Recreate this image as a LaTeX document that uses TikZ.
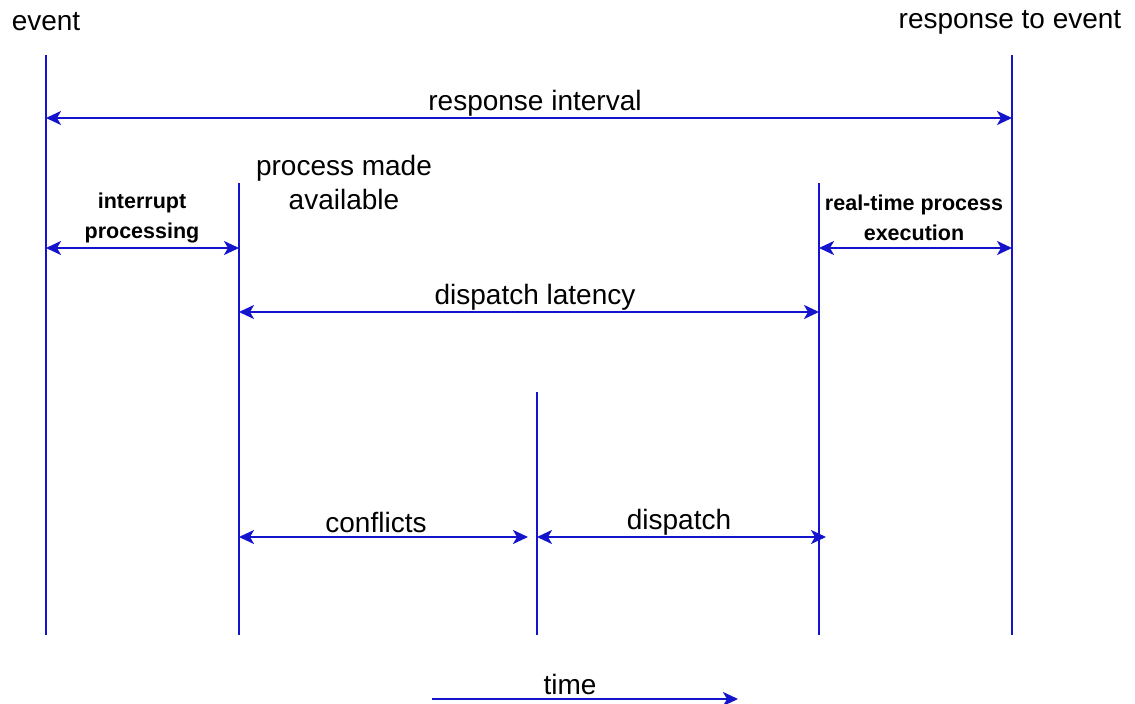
\documentclass[tikz,border=0pt]{standalone}
\usepackage{fontspec}
\setmainfont{Liberation Sans}
\usetikzlibrary{arrows.meta}
\definecolor{lineblue}{RGB}{20,20,205}
\definecolor{shadowgray}{RGB}{185,185,185}
\tikzset{
  vline/.style={draw=lineblue, line width=2.2pt},
  shadowline/.style={draw=shadowgray, line width=2.2pt},
  dimarrow/.style={draw=lineblue, line width=2.2pt, {Stealth[length=15pt,width=14pt,inset=4pt]}-{Stealth[length=15pt,width=14pt,inset=4pt]}},
  onearrow/.style={draw=lineblue, line width=2.2pt, -{Stealth[length=15pt,width=14pt,inset=4pt]}},
  lbl/.style={font=\fontsize{28}{34}\selectfont, inner sep=0pt, align=center},
  blbl/.style={font=\fontsize{21.5}{30}\selectfont\bfseries, inner sep=0pt, align=center}
}
\begin{document}
\begin{tikzpicture}[x=1pt,y=-1pt]
\useasboundingbox (0,0) rectangle (1135,704);
% vertical line end points
\coordinate (evT) at (46,55);   \coordinate (evB) at (46,635);
\coordinate (paT) at (239,183); \coordinate (paB) at (239,635);
\coordinate (mdT) at (537,392); \coordinate (mdB) at (537,635);
\coordinate (rtT) at (819,183); \coordinate (rtB) at (819,635);
\coordinate (reT) at (1012,55); \coordinate (reB) at (1012,635);
% arrow end points
\coordinate (riL) at (46,118);  \coordinate (riR) at (1012,118);
\coordinate (ipL) at (46,248);  \coordinate (ipR) at (239,248);
\coordinate (rpL) at (819,248); \coordinate (rpR) at (1012,248);
\coordinate (dlL) at (239,312); \coordinate (dlR) at (819,312);
\coordinate (cfL) at (239,537); \coordinate (cfR) at (528,537);
\coordinate (dpL) at (537,537); \coordinate (dpR) at (826,537);
\coordinate (tmL) at (432,699); \coordinate (tmR) at (738,699);
% shadows
\begin{scope}[shift={(3,3)}]
\foreach \a/\b in {evT/evB,paT/paB,mdT/mdB,rtT/rtB,reT/reB}
  \draw[shadowline] (\a) -- (\b);
\foreach \a/\b in {riL/riR,ipL/ipR,rpL/rpR,dlL/dlR,cfL/cfR,dpL/dpR}
  \draw[shadowline, shorten <=10pt, shorten >=10pt] (\a) -- (\b);
\draw[shadowline, shorten >=10pt] (tmL) -- (tmR);
\end{scope}
% vertical lines
\foreach \a/\b in {evT/evB,paT/paB,mdT/mdB,rtT/rtB,reT/reB}
  \draw[vline] (\a) -- (\b);
% arrows
\draw[dimarrow] (riL) -- (riR);
\draw[dimarrow] (ipL) -- (ipR);
\draw[dimarrow] (rpL) -- (rpR);
\draw[dimarrow] (dlL) -- (dlR);
\draw[dimarrow] (cfL) -- (cfR);
\draw[dimarrow] (dpL) -- (dpR);
\draw[onearrow] (tmL) -- (tmR);
% labels
\node[lbl] (event) at (46,22) {event};
\node[lbl] (resp) at (1010,22) {response to event};
\node[lbl] (rint) at (535,103) {response interval};
\node[lbl] (pma) at (344,182) {process made\\available};
\node[blbl] (intp) at (142,218) {interrupt\\processing};
\node[blbl] (rtpe) at (914,218) {real-time process\\execution};
\node[lbl] (dlat) at (535,297) {dispatch latency};
\node[lbl] (conf) at (376,522) {conflicts};
\node[lbl] (disp) at (679,522) {dispatch};
\node[lbl] (time) at (570,684) {time};
\end{tikzpicture}
\end{document}
